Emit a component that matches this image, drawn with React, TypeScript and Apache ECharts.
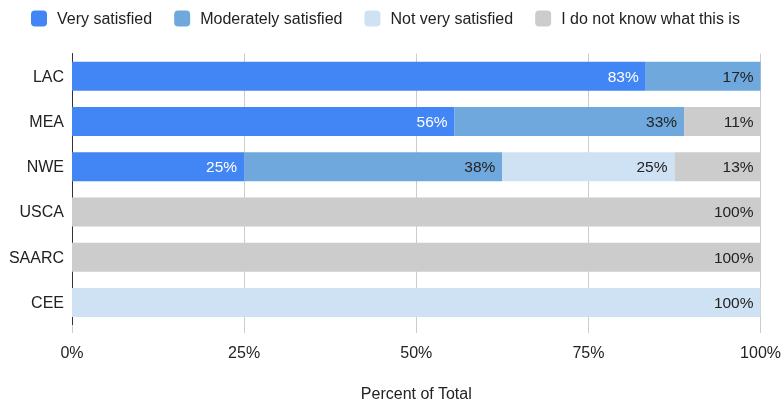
import React, { useEffect, useRef } from "react";
import * as echarts from "echarts";

const categories = ["LAC", "MEA", "NWE", "USCA", "SAARC", "CEE"];
const seriesNames = [
  "Very satisfied",
  "Moderately satisfied",
  "Not very satisfied",
  "I do not know what this is",
];
const verySatisfied = [83.33, 55.56, 25, null, null, null];
const moderatelySatisfied = [16.67, 33.33, 37.5, null, null, null];
const notVerySatisfied = [null, null, 25, null, null, 100];
const doNotKnow = [null, 11.11, 12.5, 100, 100, null];
const colors = ["#4285f4", "#6fa8dc", "#cfe2f3", "#cccccc"];
const labelColors = ["#ffffff", "#222222", "#222222", "#222222"];
const xTicks = [0, 25, 50, 75, 100];

const FONT = "'Liberation Sans', Arial, sans-serif";

export default function App() {
  const ref = useRef<HTMLDivElement>(null);
  useEffect(() => {
    if (!ref.current) return;
    const chart = echarts.init(ref.current, null, { renderer: "svg" });
    const data = [verySatisfied, moderatelySatisfied, notVerySatisfied, doNotKnow];
    chart.setOption({
      animation: false,
      textStyle: { fontFamily: FONT },
      legend: {
        top: 10.5,
        left: 31,
        padding: 0,
        itemWidth: 16,
        itemHeight: 16,
        itemGap: 22,
        icon: "roundRect",
        textStyle: {
          fontSize: 16,
          color: "#222",
          fontFamily: FONT,
          padding: [0, 0, 0, 5],
        },
        data: seriesNames,
      },
      grid: { left: 72, right: 21, top: 53.5, bottom: 77, containLabel: false },
      xAxis: {
        type: "value",
        min: xTicks[0],
        max: xTicks[xTicks.length - 1],
        interval: 25,
        name: "Percent of Total",
        nameLocation: "middle",
        nameGap: 60,
        nameTextStyle: { fontSize: 16, color: "#222", fontFamily: FONT },
        axisLine: { show: false },
        axisTick: { show: true, length: 8, lineStyle: { color: "#cccccc" } },
        axisLabel: {
          margin: 19,
          fontSize: 16,
          color: "#222",
          fontFamily: FONT,
          formatter: (v: number) => v + "%",
        },
        splitLine: { show: true, lineStyle: { color: "#cccccc", width: 1 } },
      },
      yAxis: {
        type: "category",
        data: categories,
        inverse: true,
        axisLine: { show: true, lineStyle: { color: "#333", width: 1 } },
        axisTick: { show: false },
        axisLabel: { margin: 8, fontSize: 16, color: "#222", fontFamily: FONT },
      },
      series: seriesNames.map((name, i) => ({
        name,
        type: "bar",
        stack: "total",
        barWidth: 29,
        itemStyle: { color: colors[i] },
        label: {
          show: true,
          position: "insideRight",
          distance: 7,
          fontSize: 15.5,
          fontFamily: FONT,
          color: labelColors[i],
          formatter: (p: any) =>
            p.value == null || p.value === 0 ? "" : Math.round(p.value) + "%",
        },
        data: data[i],
      })),
    });
    return () => chart.dispose();
  }, []);
  return (
    <div
      ref={ref}
      style={{ position: "fixed", left: 0, top: 0, width: 784, height: 406 }}
    />
  );
}
